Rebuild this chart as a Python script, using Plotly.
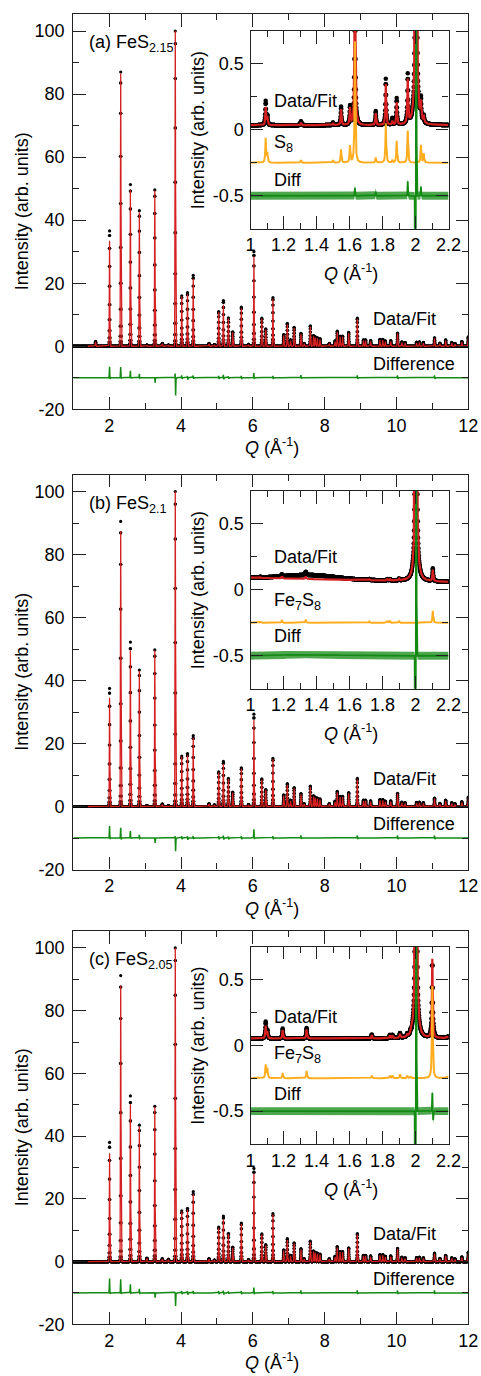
import numpy as np
import plotly.graph_objects as go

W, H = 481, 1376
FONT = "Liberation Sans, Arial, Helvetica, sans-serif"

# ---------------- main panels: peak positions (1/Å) and heights ----------------
MAIN_Q_LOW = [1.62, 2.01, 2.32, 2.59, 2.84, 3.05, 3.27, 3.48, 3.65, 3.84,
              4.02, 4.18, 4.34, 4.78, 4.93, 5.05, 5.18, 5.32, 5.44, 5.68,
              5.88, 6.03, 6.25, 6.36, 6.56]
FIT_LOW_A = [1.4, 33.5, 86.5, 49.5, 42.5, 0.3, 49.3, 0.8, 0.3, 100,
             15.8, 16.4, 21.5, 0.8, 0.4, 10.8, 13.2, 8.8, 4.4, 12.0,
             0.5, 28.5, 8.7, 5.3, 15.0]
DATA_LOW_A = [1.5, 36.6, 87.0, 51.3, 43.0, 0.4, 49.6, 0.9, 0.4, 100,
              16.0, 17.0, 22.5, 0.9, 0.5, 11.0, 14.5, 9.0, 4.6, 12.4,
              0.6, 30.0, 8.9, 5.5, 15.4]
FIT_LOW_B = [0.0, 34.5, 87.5, 49.5, 43.0, 0.2, 49.5, 0.7, 0.2, 100,
             15.8, 16.3, 21.8, 0.8, 0.4, 10.8, 13.5, 8.7, 4.4, 12.0,
             0.5, 27.5, 8.6, 5.2, 15.0]
DATA_LOW_B = [0.0, 37.5, 90.5, 52.2, 43.3, 0.3, 49.7, 0.8, 0.3, 100,
              16.0, 16.8, 22.5, 0.9, 0.5, 11.0, 14.3, 8.9, 4.6, 12.3,
              0.6, 29.3, 8.8, 5.4, 15.3]
FIT_LOW_C = [0.0, 34.5, 88.0, 50.2, 43.0, 1.0, 49.3, 0.8, 0.6, 100,
             16.0, 16.5, 21.5, 0.8, 0.4, 10.8, 13.5, 8.8, 4.4, 12.0,
             0.5, 28.0, 8.6, 5.2, 15.0]
DATA_LOW_C = [0.0, 38.0, 91.2, 52.8, 43.5, 1.1, 49.5, 0.9, 0.7, 100,
              16.2, 17.0, 22.3, 0.9, 0.5, 11.0, 14.5, 9.0, 4.6, 12.3,
              0.6, 29.7, 8.8, 5.4, 15.3]

MAIN_Q_HIGH = [6.86, 6.96, 7.05, 7.15, 7.34, 7.43, 7.60, 7.69, 7.74, 7.80,
               7.87, 8.13, 8.29, 8.35, 8.43, 8.50, 8.67, 8.91, 9.08, 9.14,
               9.28, 9.54, 9.62, 9.69, 9.84, 10.03, 10.15, 10.24, 10.56, 10.64,
               10.75, 11.06, 11.21, 11.37, 11.54, 11.63, 11.82, 12.0]
FIT_HIGH = [3.5, 6.9, 1.8, 5.8, 3.9, 0.8, 6.2, 3.2, 2.8, 2.5,
            2.2, 0.8, 1.5, 4.5, 3.0, 3.0, 4.2, 8.6, 1.8, 1.8,
            1.6, 2.0, 2.0, 1.5, 1.6, 4.0, 1.2, 1.0, 1.1, 1.2,
            1.0, 2.5, 0.8, 1.8, 1.0, 0.7, 1.3, 2.5]
DATA_HIGH = [3.7, 7.3, 2.0, 6.0, 4.1, 0.9, 6.5, 3.4, 3.0, 2.7,
             2.4, 0.9, 1.7, 4.8, 3.2, 3.2, 4.4, 8.9, 2.0, 2.0,
             1.8, 2.2, 2.2, 1.7, 1.8, 4.2, 1.4, 1.2, 1.3, 1.4,
             1.2, 2.7, 1.0, 2.0, 1.2, 0.9, 1.5, 3.0]
FIT_START_Q = 1.4

DIFF_Q = [2.01, 2.32, 2.59, 2.84, 3.27, 3.84, 4.02, 4.18, 4.34, 5.05,
          5.18, 5.32, 5.68, 6.03, 6.56, 7.34, 8.91, 10.03, 11.06]
DIFF_UP_A = [3.9, 3.7, 2.4, 1.4, 0.5, 2.8, 1.0, 0.8, 0.9, 0.8,
             1.2, 0.6, 0.8, 1.8, 0.8, 1.0, 1.0, 1.0, 1.0]
DIFF_DN_A = [1.0, 0.8, 0.5, 0.4, 1.8, 6.7, 0.6, 0.8, 0.5, 0.6,
             0.8, 0.4, 0.6, 0.8, 0.6, 0.5, 0.6, 0.6, 0.6]
DIFF_UP_B = [4.2, 3.7, 2.4, 1.2, 0.5, 1.5, 0.8, 0.8, 0.8, 0.8,
             1.0, 0.6, 0.8, 3.1, 0.8, 1.0, 1.0, 1.0, 1.0]
DIFF_DN_B = [1.0, 1.2, 0.5, 0.4, 1.8, 4.8, 0.6, 0.8, 0.5, 0.6,
             0.8, 0.4, 0.6, 0.8, 0.6, 0.5, 0.6, 0.6, 0.6]
DIFF_UP_C = [5.0, 4.8, 3.0, 1.5, 0.5, 1.0, 0.8, 0.8, 0.8, 0.8,
             1.0, 0.6, 0.8, 2.0, 0.8, 1.0, 1.0, 1.0, 1.0]
DIFF_DN_C = [1.0, 1.0, 0.5, 0.4, 1.7, 4.6, 0.6, 0.8, 0.5, 0.6,
             0.8, 0.4, 0.6, 0.8, 0.6, 0.5, 0.6, 0.6, 0.6]
DIFF_OFFSET = -10

# ---------------- insets ----------------
INSET_Q_A = [1.092, 1.102, 1.306, 1.50, 1.549, 1.603, 1.633, 1.759, 1.82, 1.86,
             1.886, 1.953, 2.003, 2.033, 2.05]
INSET_FIT_A = [0.135, 0.06, 0.02, 0.015, 0.12, 0.125, 1.6, 0.09, 0.31, 0.03,
               0.17, 0.33, 8.0, 0.13, 0.05]
INSET_DATA_A = [0.18, 0.07, 0.03, 0.02, 0.14, 0.14, 1.6, 0.105, 0.35, 0.05,
                0.20, 0.37, 8.0, 0.16, 0.05]
PHASE_A = [0.185, 0.07, 0.02, 0.02, 0.10, 0.127, 0.92, 0.04, 0.30, 0.02,
           0.165, 0.245, 0.0, 0.134, 0.07]
BG_ENDS_A = [0.035, 0.035]
SPIKE_Q_A = [1.633, 1.759, 1.953, 2.000, 2.004, 2.033]
SPIKE_A_A = [0.06, 0.03, 0.11, -3.0, 3.0, 0.07]

INSET_Q_B = [1.06, 1.19, 1.335, 1.72, 1.83, 1.845, 1.90, 2.003, 2.105]
INSET_FIT_B = [0.005, 0.015, 0.02, 0.008, 0.01, 0.01, 0.012, 8.0, 0.085]
INSET_DATA_B = [0.005, 0.015, 0.025, 0.008, 0.01, 0.01, 0.012, 8.0, 0.095]
PHASE_B = [0.006, 0.02, 0.025, 0.01, 0.015, 0.015, 0.015, 0.0, 0.09]
BG_ENDS_B = [0.092, 0.060]
HUMP_B = [1.36, 0.03, 0.15]   # centre, height, width of broad data hump
SPIKE_Q_B = [2.000, 2.004]
SPIKE_A_B = [-3.0, 3.0]

INSET_Q_C = [1.092, 1.102, 1.195, 1.34, 1.735, 1.845, 1.86, 1.906, 1.95, 1.97,
             2.003, 2.102, 2.215]
INSET_FIT_C = [0.095, 0.05, 0.065, 0.07, 0.025, 0.02, 0.02, 0.03, 0.015, 0.015,
               8.0, 0.60, 0.5]
INSET_DATA_C = [0.125, 0.06, 0.075, 0.08, 0.03, 0.025, 0.025, 0.035, 0.02, 0.02,
                8.0, 0.85, 0.5]
PHASE_C = [0.10, 0.075, 0.04, 0.055, 0.02, 0.02, 0.02, 0.03, 0.02, 0.015,
           0.0, 0.70, 0.5]
BG_ENDS_C = [0.052, 0.052]
SPIKE_Q_C = [2.000, 2.004, 2.102, 2.107]
SPIKE_A_C = [-3.0, 3.0, 0.14, -0.07]

PHASE_OFFSET = -0.25
INSET_DIFF_OFFSET = -0.5
DIFF_NOISE = 0.03

LABELS = ["(a) FeS<sub>2.15</sub>", "(b) FeS<sub>2.1</sub>", "(c) FeS<sub>2.05</sub>"]
PHASE_LABELS = ["S<sub>8</sub>", "Fe<sub>7</sub>S<sub>8</sub>", "Fe<sub>7</sub>S<sub>8</sub>"]

# ---------------- helpers ----------------
def gauss_sum(q, pos, hts, sig):
    d = (q[:, None] - np.asarray(pos)[None, :]) / sig
    return (np.asarray(hts)[None, :] * np.exp(-0.5 * d * d)).sum(axis=1)


def lor_sum(q, pos, hts, gam):
    d = (q[:, None] - np.asarray(pos)[None, :]) / gam
    return (np.asarray(hts)[None, :] / (1 + d * d)).sum(axis=1)


Q_MAIN = np.round(np.arange(1.0, 12.0001, 0.002), 4)
Q_INS = np.round(np.arange(1.0, 2.2001, 0.001), 4)
SIG_MAIN = 0.007
GAM_INS = 0.0027

RED = "#d42020"
ORANGE = "#ffad1f"
GREEN = "#138a13"
AXC = "#222222"

panels = [
    dict(fit_low=FIT_LOW_A, data_low=DATA_LOW_A, up=DIFF_UP_A, dn=DIFF_DN_A,
         iq=INSET_Q_A, ifit=INSET_FIT_A, idata=INSET_DATA_A, phase=PHASE_A,
         bg=BG_ENDS_A, hump=None, sq=SPIKE_Q_A, sa=SPIKE_A_A,
         main=(14.0, 409.3), inset=(31.0, 228.7),
         lab_df=0.22, lab_ph=-0.10, lab_diff=-0.38),
    dict(fit_low=FIT_LOW_B, data_low=DATA_LOW_B, up=DIFF_UP_B, dn=DIFF_DN_B,
         iq=INSET_Q_B, ifit=INSET_FIT_B, idata=INSET_DATA_B, phase=PHASE_B,
         bg=BG_ENDS_B, hump=HUMP_B, sq=SPIKE_Q_B, sa=SPIKE_A_B,
         main=(474.5, 869.5), inset=(491.0, 688.7),
         lab_df=0.25, lab_ph=-0.09, lab_diff=-0.35),
    dict(fit_low=FIT_LOW_C, data_low=DATA_LOW_C, up=DIFF_UP_C, dn=DIFF_DN_C,
         iq=INSET_Q_C, ifit=INSET_FIT_C, idata=INSET_DATA_C, phase=PHASE_C,
         bg=BG_ENDS_C, hump=None, sq=SPIKE_Q_C, sa=SPIKE_A_C,
         main=(931.0, 1324.3), inset=(946.7, 1144.0),
         lab_df=0.215, lab_ph=-0.07, lab_diff=-0.37),
]

MAIN_X = (73.3, 468.3)
INSET_X = (250.5, 448.5)


def xdom(a, b):
    return [a / W, b / W]


def ydom(top, bot):
    return [1 - bot / H, 1 - top / H]


fig = go.Figure()
layout = dict(width=W, height=H, margin=dict(l=0, r=0, t=0, b=0),
              paper_bgcolor="white", plot_bgcolor="white", showlegend=False,
              font=dict(family=FONT, size=18, color="black"))
annotations = []

tickfont = dict(family=FONT, size=18, color="black")


def axis_common():
    return dict(ticks="inside", ticklen=12.5, tickwidth=1.3, tickcolor=AXC,
                showline=True, linecolor=AXC, linewidth=1.3, mirror="ticks",
                showgrid=False, zeroline=False, tickfont=tickfont,
                fixedrange=True, automargin=False)


for i, p in enumerate(panels):
    mx, my = f"x{2*i+1}", f"y{2*i+1}"
    ix, iy = f"x{2*i+2}", f"y{2*i+2}"
    mxk = "xaxis" if i == 0 else f"xaxis{2*i+1}"
    myk = "yaxis" if i == 0 else f"yaxis{2*i+1}"
    mx = "x" if i == 0 else mx
    my = "y" if i == 0 else my
    ixk, iyk = f"xaxis{2*i+2}", f"yaxis{2*i+2}"

    # ---- main panel ----
    fit_main = gauss_sum(Q_MAIN, MAIN_Q_LOW, p["fit_low"], SIG_MAIN) + \
        gauss_sum(Q_MAIN, MAIN_Q_HIGH, FIT_HIGH, SIG_MAIN)
    data_main = gauss_sum(Q_MAIN, MAIN_Q_LOW, p["data_low"], SIG_MAIN) + \
        gauss_sum(Q_MAIN, MAIN_Q_HIGH, DATA_HIGH, SIG_MAIN)
    diff_main = DIFF_OFFSET + gauss_sum(Q_MAIN, DIFF_Q, p["up"], 0.006) - \
        gauss_sum(Q_MAIN, np.asarray(DIFF_Q) + 0.008, p["dn"], 0.006)
    sel = Q_MAIN >= FIT_START_Q

    fig.add_trace(go.Scatter(x=Q_MAIN, y=data_main, mode="markers", xaxis=mx, yaxis=my,
                             marker=dict(size=3.2, color="black"), hoverinfo="skip"))
    fig.add_trace(go.Scatter(x=Q_MAIN[sel], y=fit_main[sel], mode="lines", xaxis=mx, yaxis=my,
                             line=dict(color=RED, width=1.3), hoverinfo="skip"))
    fig.add_trace(go.Scatter(x=Q_MAIN, y=diff_main, mode="lines", xaxis=mx, yaxis=my,
                             line=dict(color=GREEN, width=1.5), hoverinfo="skip"))

    # ---- inset ----
    bg = p["bg"][0] + (p["bg"][1] - p["bg"][0]) * (Q_INS - 1.0) / 1.2
    fit_ins = bg + lor_sum(Q_INS, p["iq"], p["ifit"], GAM_INS)
    data_ins = bg + lor_sum(Q_INS, p["iq"], p["idata"], GAM_INS)
    diff_c = INSET_DIFF_OFFSET + gauss_sum(Q_INS, p["sq"], p["sa"], 0.0015)
    if p["hump"] is not None:
        hump = gauss_sum(Q_INS, [p["hump"][0]], [p["hump"][1]], p["hump"][2])
        data_ins = data_ins + hump
        diff_c = diff_c + 0.35 * hump
    phase_ins = PHASE_OFFSET + lor_sum(Q_INS, p["iq"], p["phase"], GAM_INS)

    fig.add_trace(go.Scatter(x=Q_INS, y=data_ins, mode="markers", xaxis=ix, yaxis=iy,
                             marker=dict(size=4.5, color="black"), hoverinfo="skip"))
    fig.add_trace(go.Scatter(x=Q_INS, y=fit_ins, mode="lines", xaxis=ix, yaxis=iy,
                             line=dict(color=RED, width=2.2), hoverinfo="skip"))
    fig.add_trace(go.Scatter(x=Q_INS, y=phase_ins, mode="lines", xaxis=ix, yaxis=iy,
                             line=dict(color=ORANGE, width=2.0), hoverinfo="skip"))
    fig.add_trace(go.Scatter(x=Q_INS, y=diff_c - DIFF_NOISE, mode="lines", xaxis=ix, yaxis=iy,
                             line=dict(width=0, color=GREEN), hoverinfo="skip"))
    fig.add_trace(go.Scatter(x=Q_INS, y=diff_c + DIFF_NOISE, mode="lines", xaxis=ix, yaxis=iy,
                             line=dict(width=0, color=GREEN), fill="tonexty",
                             fillcolor="rgba(19,138,19,0.75)", hoverinfo="skip"))
    fig.add_trace(go.Scatter(x=Q_INS, y=diff_c, mode="lines", xaxis=ix, yaxis=iy,
                             line=dict(color=GREEN, width=1.8), hoverinfo="skip"))

    # ---- axes ----
    ax = axis_common()
    ax.update(domain=xdom(*MAIN_X), range=[1, 12], anchor=my,
              tickmode="array", tickvals=[2, 4, 6, 8, 10, 12],
              ticktext=["2", "4", "6", "8", "10", "12"],
              minor=dict(ticks="inside", ticklen=6, tickwidth=1.3, tickcolor=AXC,
                         tickmode="array", tickvals=[1, 3, 5, 7, 9, 11]))
    layout[mxk] = ax
    ay = axis_common()
    ay.update(domain=ydom(*p["main"]), range=[-20, 105.4], anchor=mx,
              tickmode="array", tickvals=[-20, 0, 20, 40, 60, 80, 100],
              ticktext=["-20", "0", "20", "40", "60", "80", "100"],
              ticklabelstandoff=4,
              minor=dict(ticks="inside", ticklen=6, tickwidth=1.3, tickcolor=AXC,
                         tickmode="array", tickvals=[-10, 10, 30, 50, 70, 90]))
    layout[myk] = ay

    bx = axis_common()
    bx.update(domain=xdom(*INSET_X), range=[1, 2.2], anchor=iy,
              tickmode="array", tickvals=[1, 1.2, 1.4, 1.6, 1.8, 2.0, 2.2],
              ticktext=["1", "1.2", "1.4", "1.6", "1.8", "2", "2.2"],
              minor=dict(ticks="inside", ticklen=6, tickwidth=1.3, tickcolor=AXC,
                         tickmode="array", tickvals=[1.1, 1.3, 1.5, 1.7, 1.9, 2.1]))
    layout[ixk] = bx
    by = axis_common()
    by.update(domain=ydom(*p["inset"]), range=[-0.75, 0.75], anchor=ix,
              tickmode="array", tickvals=[-0.5, 0, 0.5],
              ticktext=["-0.5", "0", "0.5"], ticklabelstandoff=2,
              minor=dict(ticks="inside", ticklen=6, tickwidth=1.3, tickcolor=AXC,
                         tickmode="array", tickvals=[-0.25, 0.25]))
    layout[iyk] = by

    # ---- titles & labels ----
    mtop, mbot = p["main"]
    itop, ibot = p["inset"]
    annotations += [
        dict(text="Intensity (arb. units)", textangle=-90, xref="paper", yref="paper",
             x=21.7 / W, y=1 - (mtop + mbot) / 2 / H, showarrow=False,
             xanchor="center", yanchor="middle", font=dict(size=18)),
        dict(text="<i>Q</i> (Å<sup>-1</sup>)", xref="paper", yref="paper",
             x=271.5 / W, y=1 - (mbot + 37.5) / H, showarrow=False,
             xanchor="center", yanchor="middle", font=dict(size=18)),
        dict(text="Intensity (arb. units)", textangle=-90, xref="paper", yref="paper",
             x=198.3 / W, y=1 - (itop + ibot) / 2 / H, showarrow=False,
             xanchor="center", yanchor="middle", font=dict(size=18)),
        dict(text="<i>Q</i> (Å<sup>-1</sup>)", xref="paper", yref="paper",
             x=351 / W, y=1 - (ibot + 44.0) / H, showarrow=False,
             xanchor="center", yanchor="middle", font=dict(size=18)),
        dict(text=LABELS[i], xref=mx, yref=my, x=1.39, y=96.0, showarrow=False,
             xanchor="left", yanchor="middle", font=dict(size=18)),
        dict(text="Data/Fit", xref=mx, yref=my, x=9.28, y=8.8, showarrow=False,
             xanchor="left", yanchor="middle", font=dict(size=18)),
        dict(text="Difference", xref=mx, yref=my, x=9.28, y=-5.6, showarrow=False,
             xanchor="left", yanchor="middle", font=dict(size=18)),
        dict(text="Data/Fit", xref=ix, yref=iy, x=1.128, y=p["lab_df"], showarrow=False,
             xanchor="left", yanchor="middle", font=dict(size=18)),
        dict(text=PHASE_LABELS[i], xref=ix, yref=iy, x=1.128, y=p["lab_ph"], showarrow=False,
             xanchor="left", yanchor="middle", font=dict(size=18)),
        dict(text="Diff", xref=ix, yref=iy, x=1.128, y=p["lab_diff"], showarrow=False,
             xanchor="left", yanchor="middle", font=dict(size=18)),
    ]

layout["annotations"] = annotations
fig.update_layout(**layout)
fig.write_html("out.html")
